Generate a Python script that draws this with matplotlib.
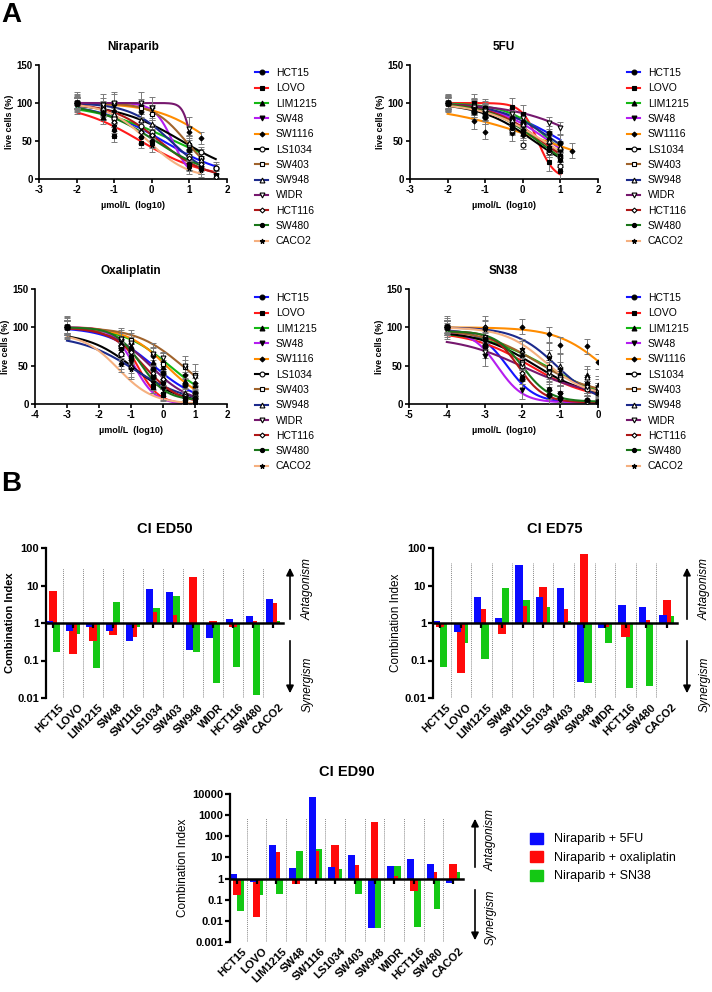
import numpy as np
import matplotlib
matplotlib.use('Agg')
import matplotlib.pyplot as plt
from matplotlib.lines import Line2D
from matplotlib.patches import Patch, FancyArrowPatch
from matplotlib.transforms import offset_copy

plt.rcParams['font.family'] = ['Liberation Sans', 'DejaVu Sans']

W, H = 712, 992
nan = np.nan

# ---------------- panel A data ----------------
cell_lines = ['HCT15', 'LOVO', 'LIM1215', 'SW48', 'SW1116', 'LS1034',
              'SW403', 'SW948', 'WIDR', 'HCT116', 'SW480', 'CACO2']
line_colors = ['#1414ff', '#ff1a1a', '#14b814', '#b41ef0', '#ff8c00', '#000000',
               '#a0632c', '#1c2a8c', '#76186e', '#b01818', '#1a761a', '#f5b080']
markers = ['o', 's', '^', 'v', 'D', 'o', 's', '^', 'v', 'D', 'o', '*']
filled = [True, True, True, True, True, False, False, False, False, False, True, True]
msizes = [3.5, 3.5, 3.5, 3.5, 2.5, 3.5, 3.5, 3.5, 3.5, 2.5, 3.0, 3.5]

# log10 doses and mean % live cells (one row per cell line)
nira_doses = [-2, -1.3, -1, -0.3, 0, 1, 1.3, 1.7]
nira_values = [
    [100, nan, 82, nan, 58, 38, 28, 14],
    [100, nan, 56, 48, 48, 18, 14, 5],
    [100, 82, 78, 65, 60, 48, 20, nan],
    [100, 97, 96, 95, 92, 18, nan, nan],
    [100, 92, 90, 88, 85, 62, 54, nan],
    [100, 90, 80, 70, 62, 30, 36, 14],
    [100, 95, 100, 93, 85, 45, 28, nan],
    [100, 93, 85, 78, 72, 48, 25, nan],
    [100, 97, 100, 100, 93, 66, nan, nan],
    [100, 85, 75, 62, 58, 28, 20, 3],
    [100, 85, 65, 55, 50, 20, 15, nan],
    [100, 88, 70, 55, 45, 15, 12, nan],
]
# fitted curves: (top, bottom, logIC50, hill)
nira_fit = [(100, 0, 0.3, 0.5), (100, 0, -0.3, 0.5), (100, 0, 0.6, 0.4),
            (100, 0, 0.55, 1.8), (100, 0, 1.6, 0.6), (100, 0, 0.8, 0.5),
            (100, 0, 0.9, 1.0), (100, 0, 0.5, 0.8), (100, 0, 1.05, 4.0),
            (100, 0, 0.2, 0.7), (100, 0, 0.1, 0.55), (100, 0, -0.1, 0.8)]
nira_sd = [8, 7, 10, 6, 8, 6, 12, 8, 15, 7, 8, 9]

fu_doses = [-2, -1.3, -1, -0.3, 0, 0.7, 1, 1.3]
fu_values = [
    [100, 95, 93, 80, 75, 60, 48, nan],
    [100, 100, 93, 95, 86, 22, 11, nan],
    [100, 97, 92, 82, 75, 55, 40, nan],
    [100, 93, 90, 75, 70, 50, 38, nan],
    [100, 76, 62, 60, 58, 48, 40, 37],
    [100, 88, 82, 65, 45, 35, 17, nan],
    [100, 98, 88, 70, 62, 40, 30, nan],
    [100, 97, 92, 78, 72, 50, 42, nan],
    [100, 95, 90, 85, 80, 74, 67, nan],
    [100, 90, 85, 70, 65, 40, 28, nan],
    [100, 88, 82, 67, 60, 38, 25, nan],
    [100, 92, 86, 72, 65, 42, 32, nan],
]
fu_fit = [(100, 0, 1.05, 0.5), (100, 0, 0.4, 2.0), (100, 0, 0.75, 0.75),
          (100, 0, 0.7, 0.6), (100, 0, 0.6, 0.3), (100, 0, 0.3, 0.6),
          (100, 0, 0.5, 0.6), (100, 0, 0.85, 0.6), (100, 0, 1.8, 0.45),
          (100, 0, 0.5, 0.65), (100, 0, 0.4, 0.65), (100, 0, 0.55, 0.55)]
fu_sd = [10, 12, 8, 9, 10, 6, 8, 7, 8, 8, 9, 8]

oxa_doses = [-3, -1.3, -1, -0.3, 0, 0.7, 1]
oxa_values = [
    [100, 75, 70, 45, 40, 25, 15],
    [100, 65, 60, 22, 12, 3, 3],
    [100, 80, 75, 55, 48, 30, 25],
    [100, 70, 55, 28, 20, 5, 4],
    [100, 85, 80, 62, 55, 38, 28],
    [100, 65, 48, 35, 30, 12, 10],
    [100, 85, 83, 65, 52, 48, 38],
    [100, 55, 50, 40, 35, 15, 10],
    [100, 85, 80, 65, 60, 50, 35],
    [100, 75, 68, 40, 33, 10, 8],
    [100, 72, 62, 35, 28, 8, 8],
    [100, 52, 45, 25, 15, 5, 5],
]
oxa_fit = [(100, 0, -0.3, 0.6), (100, 0, -0.8, 1.3), (100, 0, 0.2, 0.6),
           (100, 0, -0.9, 1.3), (100, 0, 0.1, 0.7), (93, 0, -0.9, 0.6),
           (100, 0, 0.6, 0.6), (90, 0, -0.9, 0.5), (100, 0, -0.4, 0.7),
           (100, 0, -0.6, 0.8), (100, 5, -0.7, 1.1), (92, 0, -1.4, 0.8)]
oxa_sd = [8, 8, 9, 10, 12, 15, 14, 10, 8, 10, 9, 10]

sn_doses = [-4, -3, -2, -1.3, -1, -0.3, 0]
sn_values = [
    [100, 75, 32, 12, 8, 5, 3],
    [100, 75, 55, 45, 33, 20, 15],
    [100, 80, 65, 50, 40, 38, 25],
    [100, 62, 18, 10, 5, 3, 2],
    [100, 100, 101, 91, 77, 75, 55],
    [100, 85, 50, 38, 33, 20, 15],
    [100, 88, 55, 48, 35, 25, 18],
    [100, 100, 70, 65, 50, 35, 22],
    [100, 68, 52, 40, 32, 22, 20],
    [100, 88, 40, 18, 15, 3, 2],
    [100, 85, 35, 20, 15, 5, 3],
    [100, 98, 72, 60, 45, 28, 15],
]
sn_fit = [(97, 2, -2.4, 1.2), (95, 5, -1.8, 0.55), (95, 0, -1.3, 0.5),
          (95, 2, -2.65, 1.3), (100, 0, 0.15, 0.7), (95, 8, -1.7, 0.6),
          (97, 12, -1.6, 0.6), (100, 0, -1.1, 0.8), (88, 10, -2.0, 0.5),
          (95, 2, -2.1, 1.3), (95, 3, -2.0, 1.2), (100, 10, -1.4, 0.8)]
sn_sd = [6, 10, 8, 12, 10, 8, 10, 15, 8, 8, 9, 10]

# ---------------- panel B data ----------------
combos = ['Niraparib + 5FU', 'Niraparib + oxaliplatin', 'Niraparib + SN38']
combo_colors = ['#0a0aff', '#ff0a0a', '#14c814']

ed50_5fu = [1.15, 0.6, 0.77, 0.6, 0.34, 8.0, 6.8, 0.19, 0.39, 1.28, 1.5, 4.3]
ed50_oxa = [7.2, 0.15, 0.33, 0.47, 0.43, 2.0, 1.6, 16.5, 1.1, 0.8, 1.15, 3.4]
ed50_sn38 = [0.17, 0.52, 0.065, 3.6, 0.76, 2.5, 5.3, 0.17, 0.025, 0.066, 0.012, 1.15]

ed75_5fu = [1.15, 0.56, 4.8, 1.35, 36, 4.9, 8.7, 0.026, 0.73, 3.0, 2.6, 1.6]
ed75_oxa = [0.8, 0.046, 2.3, 0.52, 2.9, 9.0, 2.4, 70, 0.8, 0.42, 1.2, 4.1]
ed75_sn38 = [0.068, 0.29, 0.11, 8.6, 4.2, 2.7, 1.1, 0.025, 0.3, 0.018, 0.021, 1.5]

ed90_5fu = [1.6, 0.72, 40, 3.0, 7500, 3.4, 13, 0.0044, 4.0, 8.5, 4.8, 0.65]
ed90_oxa = [0.16, 0.016, 18, 0.57, 20, 40, 4.5, 500, 1.3, 0.25, 2.1, 4.8]
ed90_sn38 = [0.028, 0.17, 0.19, 20, 25, 2.8, 0.19, 0.0044, 3.8, 0.005, 0.038, 2.1]

fig = plt.figure(figsize=(W / 100, H / 100), dpi=100)


def fx(x):
    return x / W


def fy(y):
    return 1 - y / H


def axes_px(left, top, right, bottom):
    return fig.add_axes([fx(left), fy(bottom), (right - left) / W, (bottom - top) / H])


def dose_panel(box, title, doses, values, fits, sd, xlim, legend_at):
    ax = axes_px(*box)
    doses = np.array(doses, float)
    for i in range(len(cell_lines)):
        vals = np.array(values[i], float)
        ok = ~np.isnan(vals)
        xs = np.linspace(doses[ok].min(), doses[ok].max(), 200)
        top, bottom, logec, hill = fits[i]
        curve = bottom + (top - bottom) / (1 + 10 ** ((xs - logec) * hill))
        ax.plot(xs, curve, color=line_colors[i], lw=1.5, zorder=2)
        ax.errorbar(doses[ok], vals[ok], yerr=sd[i], fmt='none', ecolor='#7a7a7a',
                    elinewidth=0.7, capsize=2, capthick=0.7, zorder=3)
        ax.plot(doses[ok], vals[ok], ls='none', marker=markers[i], ms=msizes[i],
                mfc='black' if filled[i] else 'white', mec='black', mew=0.8, zorder=4)
    ax.set_xlim(*xlim)
    ax.set_ylim(0, 150)
    ax.set_xticks(range(xlim[0], xlim[1] + 1))
    ax.set_yticks([0, 50, 100, 150])
    ax.set_xticklabels([str(t) for t in range(xlim[0], xlim[1] + 1)], fontsize=7, fontweight='bold')
    ax.set_yticklabels(['0', '50', '100', '150'], fontsize=7, fontweight='bold')
    for s in ['top', 'right']:
        ax.spines[s].set_visible(False)
    for s in ['left', 'bottom']:
        ax.spines[s].set_linewidth(1.2)
    ax.tick_params(width=1.2, length=3, pad=1.5)
    ax.set_title(title, fontsize=8.5, fontweight='bold', pad=11)
    ax.set_ylabel('live cells (%)', fontsize=6.5, fontweight='bold', labelpad=2)
    ax.set_xlabel('\u00b5mol/L  (log10)', fontsize=6.5, fontweight='bold', labelpad=4)
    handles = [Line2D([], [], color=line_colors[i], lw=1.5, marker=markers[i], ms=msizes[i],
                      mfc='black' if filled[i] else 'white', mec='black', mew=0.8)
               for i in range(len(cell_lines))]
    fig.legend(handles, cell_lines, loc='upper left', bbox_to_anchor=(fx(legend_at[0]), fy(legend_at[1])),
               frameon=False, fontsize=7.5, handlelength=1.25, handletextpad=0.75,
               labelspacing=0.51, borderpad=0, borderaxespad=0)
    return ax


def ci_panel(box, title, v5, vo, vs, ylim, yticks, ytlabels, bold_ylabel, sep_top, title_pad):
    ax = axes_px(*box)
    ax.set_yscale('log')
    x = np.arange(len(cell_lines))
    ax.bar(x + 0.175, np.array(vs) - 1, bottom=1, width=0.35, color=combo_colors[2], lw=0, zorder=1.2)
    ax.bar(x, np.array(vo) - 1, bottom=1, width=0.4, color=combo_colors[1], lw=0, zorder=1.4)
    ax.bar(x - 0.175, np.array(v5) - 1, bottom=1, width=0.35, color=combo_colors[0], lw=0, zorder=1.6)
    for i in range(len(cell_lines)):
        ax.axvline(i + 0.5, ymin=0, ymax=sep_top, color='#8a8a8a', ls=(0, (1, 1)), lw=0.7, zorder=1)
    ax.set_axisbelow(False)
    ax.set_xlim(-0.35, 11.5)
    ax.set_ylim(*ylim)
    ax.set_yticks(yticks)
    ax.set_yticklabels(ytlabels, fontsize=8, fontweight='bold')
    ax.minorticks_off()
    ax.spines['top'].set_visible(False)
    ax.spines['right'].set_visible(False)
    ax.spines['left'].set_linewidth(1.6)
    ax.spines['bottom'].set_position(('data', 1))
    ax.spines['bottom'].set_linewidth(1.8)
    ax.set_xticks(x)
    ax.tick_params(axis='x', labelbottom=False, length=3.5, width=1.6, direction='out')
    ax.tick_params(axis='y', length=3.5, width=1.6, pad=1.5)
    tr = offset_copy(ax.get_xaxis_transform(), fig=fig, x=0, y=-3, units='points')
    for i, name in enumerate(cell_lines):
        ax.text(i + 0.25, 0, name, transform=tr, rotation=45, ha='right', va='top',
                rotation_mode='anchor', fontsize=8, fontweight='bold')
    ax.set_title(title, fontsize=10.5, fontweight='bold', pad=title_pad)
    ax.set_ylabel('Combination Index', fontsize=8.5 if not bold_ylabel else 8,
                  fontweight='bold' if bold_ylabel else 'normal', labelpad=2)
    return ax


def arrows(x, up0, up1, dn0, dn1, tx, ant_y, syn_y):
    for a, b in [(up0, up1), (dn0, dn1)]:
        fig.add_artist(FancyArrowPatch((fx(x), fy(a)), (fx(x), fy(b)), transform=fig.transFigure,
                                       arrowstyle='-|>', mutation_scale=11, lw=1.2, color='black'))
    fig.text(fx(tx), fy(ant_y), 'Antagonism', rotation=90, style='italic', fontsize=8.5,
             ha='center', va='center')
    fig.text(fx(tx), fy(syn_y), 'Synergism', rotation=90, style='italic', fontsize=8.5,
             ha='center', va='center')


# panel A
fig.text(fx(1), fy(2), 'A', fontsize=20, fontweight='bold', va='top', ha='left')
dose_panel((39, 65, 227, 179), 'Niraparib', nira_doses, nira_values, nira_fit, nira_sd, (-3, 2), (255, 68))
dose_panel((410, 65, 598, 179), '5FU', fu_doses, fu_values, fu_fit, fu_sd, (-3, 2), (627, 68))
dose_panel((35, 289, 227, 404), 'Oxaliplatin', oxa_doses, oxa_values, oxa_fit, oxa_sd, (-4, 2), (255, 293))
dose_panel((409, 289, 598, 404), 'SN38', sn_doses, sn_values, sn_fit, sn_sd, (-5, 0), (627, 293))

# panel B
fig.text(fx(1), fy(471), 'B', fontsize=20, fontweight='bold', va='top', ha='left')
dec4 = [0.01, 0.1, 1, 10, 100]
dec4_lbl = ['0.01', '0.1', '1', '10', '100']
ci_panel((46, 548, 283, 698), 'CI ED50', ed50_5fu, ed50_oxa, ed50_sn38, (0.01, 100),
         dec4, dec4_lbl, True, 0.87, 11)
ci_panel((433, 548, 677, 698), 'CI ED75', ed75_5fu, ed75_oxa, ed75_sn38, (0.01, 100),
         dec4, dec4_lbl, False, 0.9, 11)
dec7 = [0.001, 0.01, 0.1, 1, 10, 100, 1000, 10000]
dec7_lbl = ['0.001', '0.01', '0.1', '1', '10', '100', '1000', '10000']
ci_panel((230, 794, 463, 942), 'CI ED90', ed90_5fu, ed90_oxa, ed90_sn38, (0.001, 10000),
         dec7, dec7_lbl, False, 0.84, 13)

arrows(290, 622, 565, 638, 696, 308, 589, 684)
arrows(687, 622, 565, 638, 696, 705, 589, 684)
arrows(475, 870, 816, 887, 943, 491, 840, 917)

fig.legend([Patch(color=c) for c in combo_colors], combos, loc='upper left',
           bbox_to_anchor=(fx(530), fy(832.5)), frameon=False, fontsize=9,
           handlelength=1.0, handleheight=1.0, handletextpad=0.9, labelspacing=0.45,
           borderpad=0, borderaxespad=0)

fig.savefig('out.png', dpi=100)
